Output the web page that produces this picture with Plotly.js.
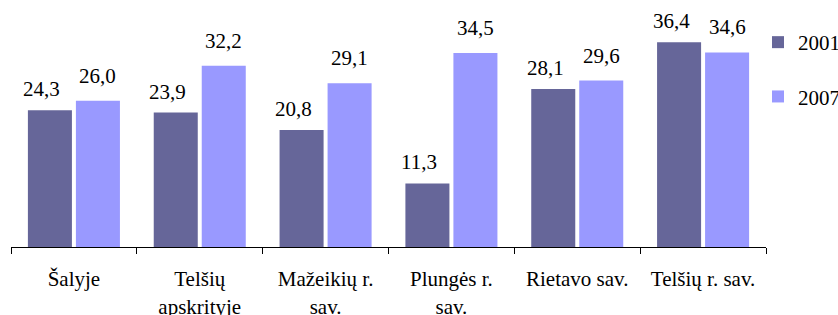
<!DOCTYPE html>
<html>
<head>
<meta charset="utf-8">
<script src="https://cdn.plot.ly/plotly-3.0.1.min.js"></script>
<style>
html,body{margin:0;padding:0;background:#fff;}
#chart{width:838px;height:315px;}
#chart svg text{font-family:"Liberation Serif", serif !important;}
</style>
</head>
<body>
<div id="chart"></div>
<script>
const categories = ["Šalyje", "Telšių<br>apskrityje", "Mažeikių r.<br>sav.", "Plungės r.<br>sav.", "Rietavo sav.", "Telšių r. sav."];
const series2001 = [24.3, 23.9, 20.8, 11.3, 28.1, 36.4];
const series2007 = [26.0, 32.2, 29.1, 34.5, 29.6, 34.6];
const seriesNames = ["2001", "2007"];

const FONT = "Liberation Serif";
const FSIZE = 21;
const fmt = v => v.toFixed(1).replace('.', ',');

const traces = [
  {type: 'bar', name: seriesNames[0], x: categories, y: series2001,
   marker: {color: '#666699'}, legendgroup: 'a', hoverinfo: 'none'},
  {type: 'bar', name: seriesNames[1], x: categories, y: series2007,
   marker: {color: '#9999FF'}, legendgroup: 'b', hoverinfo: 'none'}
];

const annotations = [];
categories.forEach((c, i) => {
  annotations.push({x: c, y: series2001[i], xref: 'x', yref: 'y', text: fmt(series2001[i]),
    showarrow: false, yanchor: 'bottom', xshift: -32, yshift: 7,
    font: {family: FONT, size: FSIZE, color: '#000'}});
  annotations.push({x: c, y: series2007[i], xref: 'x', yref: 'y', text: fmt(series2007[i]),
    showarrow: false, yanchor: 'bottom', xshift: 24, yshift: 11,
    font: {family: FONT, size: FSIZE, color: '#000'}});
});

const layout = {
  width: 838, height: 315,
  margin: {l: 11, r: 72, t: 22, b: 68, pad: 0, autoexpand: false},
  paper_bgcolor: '#fff', plot_bgcolor: '#fff',
  barmode: 'group', bargap: 0.237, bargroupgap: 0.083,
  font: {family: FONT, size: FSIZE, color: '#000'},
  xaxis: {
    type: 'category', showline: true, linecolor: '#000', linewidth: 1,
    ticks: 'outside', tickson: 'boundaries', ticklen: 6, tickcolor: '#000', tickwidth: 1,
    tickfont: {family: FONT, size: FSIZE, color: '#000'}, showgrid: false, zeroline: false,
    fixedrange: true, automargin: false, ticklabelstandoff: 13
  },
  yaxis: {range: [0, 40], visible: false, showgrid: false, zeroline: false, fixedrange: true},
  showlegend: true,
  legend: {x: 1.0, xanchor: 'left', y: 1.0, yanchor: 'top', traceorder: 'grouped', indentation: -8,
    tracegroupgap: 24, font: {family: FONT, size: FSIZE, color: '#000'}, bgcolor: 'rgba(0,0,0,0)'},
  annotations: annotations
};

Plotly.newPlot('chart', traces, layout, {staticPlot: true});
</script>
</body>
</html>
